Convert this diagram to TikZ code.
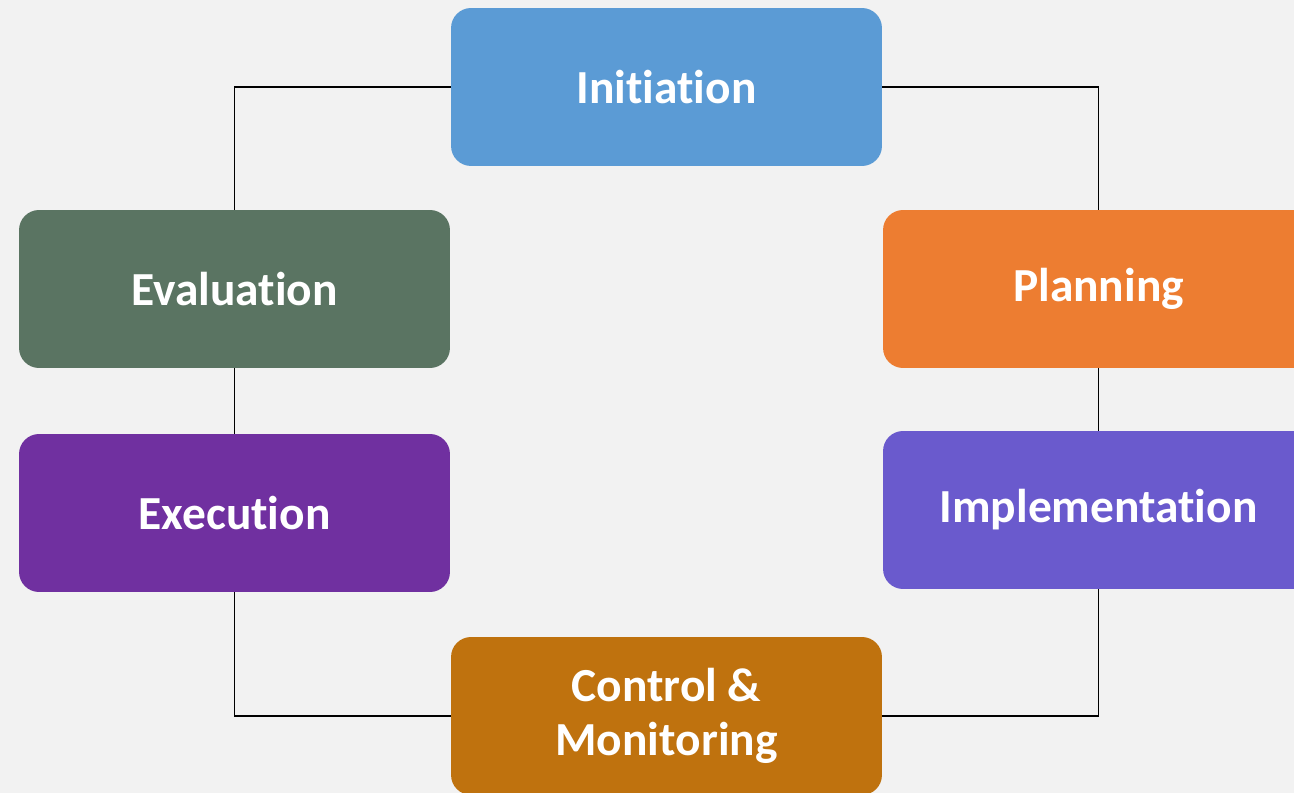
\documentclass[tikz,border=0pt]{standalone}
\usepackage{fontspec}
\setmainfont{Carlito}[Ligatures=NoCommon]
\usetikzlibrary{positioning}
\definecolor{bgGray}{HTML}{F2F2F2}
\definecolor{initBlue}{HTML}{5B9BD5}
\definecolor{planOrange}{HTML}{ED7D31}
\definecolor{evalGreen}{HTML}{5A7462}
\definecolor{execPurple}{HTML}{7030A0}
\definecolor{implViolet}{HTML}{6A5ACD}
\definecolor{ctrlBrown}{HTML}{BF720E}

\begin{document}
\begin{tikzpicture}[
    x=0.02cm, y=-0.02cm,
    phase/.style={rectangle, rounded corners=0.4cm, minimum width=8.62cm,
      minimum height=3.16cm, inner sep=0pt, align=center, text=white,
      font=\bfseries\fontsize{27}{31}\selectfont},
    link/.style={draw=black, line width=0.6pt}
  ]
  \fill[bgGray] (0,0) rectangle (1294,793);
  \useasboundingbox (0,0) rectangle (1294,793);
  \begin{scope}
    \clip (0,0) rectangle (1294,793);
    \node[phase, fill=initBlue] (init) at (666.5,87) {Initiation};
    \node[phase, fill=evalGreen] (eval) at (234.5,289) {Evaluation};
    \node[phase, fill=planOrange] (plan) at (1098.5,289) {Planning};
    \node[phase, fill=execPurple] (exec) at (234.5,513) {Execution};
    \node[phase, fill=implViolet] (impl) at (1098.5,510) {Implementation};
    \node[phase, fill=ctrlBrown] (ctrl) at (666.5,716) {Control \&\\Monitoring};
    % connectors round the cycle
    \draw[link] (init.west) -| (eval.north);
    \draw[link] (init.east) -| (plan.north);
    \draw[link] (eval.south) -- (exec.north);
    \draw[link] (plan.south) -- (impl.north);
    \draw[link] (exec.south) |- (ctrl.west);
    \draw[link] (impl.south) |- (ctrl.east);
  \end{scope}
\end{tikzpicture}
\end{document}
